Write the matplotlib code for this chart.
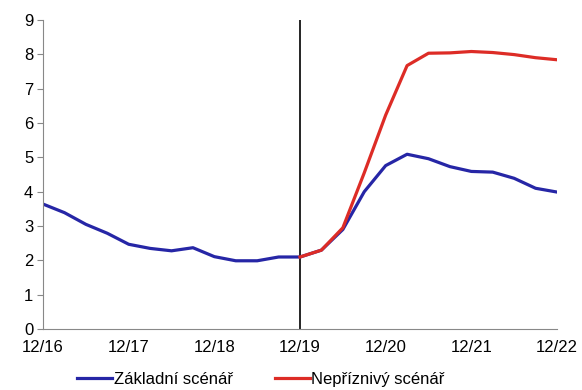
import numpy as np
import matplotlib.pyplot as plt

plt.rcParams['font.family'] = ['Liberation Sans', 'DejaVu Sans']

# quarterly data, 12/16 .. 12/22
quarters = np.arange(25)
zakladni = [3.64, 3.39, 3.05, 2.79, 2.47, 2.35, 2.28, 2.37, 2.11, 1.99, 1.99, 2.1, 2.1,
            2.3, 2.9, 4.0, 4.76, 5.09, 4.96, 4.73, 4.59, 4.57, 4.39, 4.1, 3.99]
neprizn_start = 12
nepriznivy = [2.1, 2.3, 2.95, 4.55, 6.23, 7.67, 8.03, 8.04, 8.08, 8.05, 7.99, 7.9, 7.84]
tick_labels = ['12/16', '12/17', '12/18', '12/19', '12/20', '12/21', '12/22']

fig = plt.figure(figsize=(5.82, 3.9), dpi=100)
ax = fig.add_axes([0.074, 0.156, 0.883, 0.793])

ax.plot(quarters, zakladni, color='#2626A6', lw=2.3, label='Základní scénář', zorder=2)
ax.plot(quarters[neprizn_start:], nepriznivy, color='#DD2C26', lw=2.3,
        label='Nepříznivý scénář', zorder=3)
ax.axvline(12, color='black', lw=1.2, zorder=1)

ax.set_xlim(0, 24)
ax.set_ylim(0, 9)
ax.set_yticks(range(10))
ax.set_xticks(range(0, 25, 4))
ax.set_xticklabels(tick_labels)
ax.tick_params(axis='x', length=0, pad=8, labelsize=12)
ax.tick_params(axis='y', length=4, color='#888888', labelsize=12, pad=3)

for s in ['top', 'right']:
    ax.spines[s].set_visible(False)
for s in ['left', 'bottom']:
    ax.spines[s].set_color('#888888')

ax.legend(loc='upper center', bbox_to_anchor=(0.424, -0.09), ncol=2, frameon=False,
          fontsize=12, handlelength=2.1, handletextpad=0.1, columnspacing=2.5)

fig.savefig('out.png', dpi=100)
